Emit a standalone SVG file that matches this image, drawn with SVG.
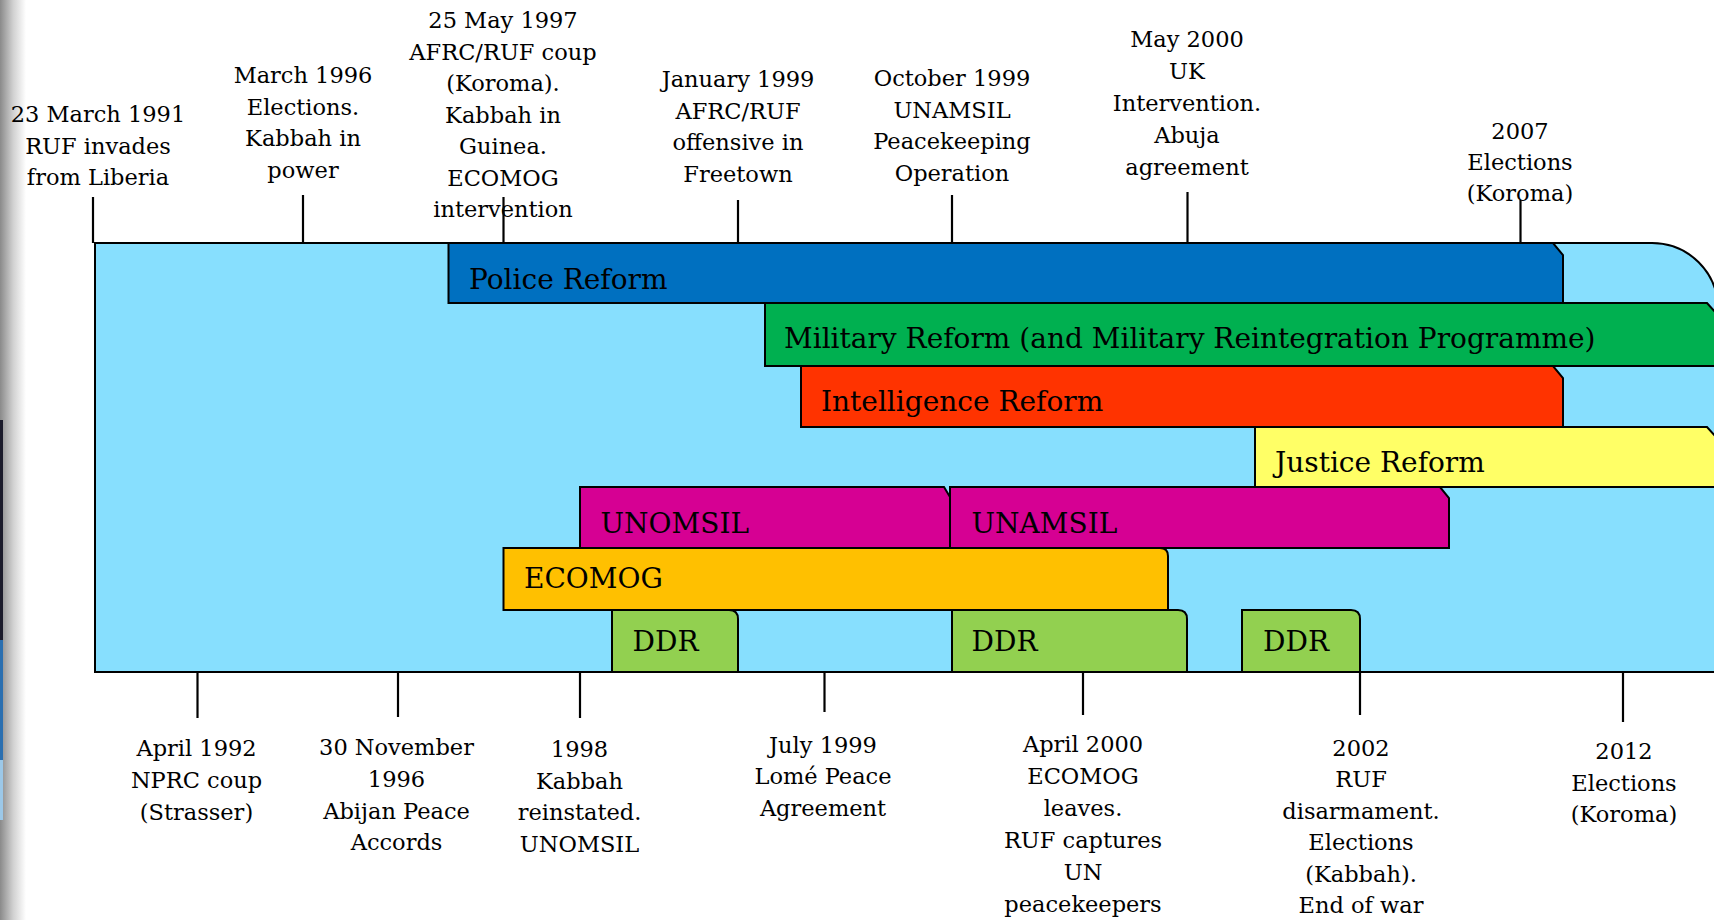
<svg xmlns="http://www.w3.org/2000/svg" width="1714" height="920" viewBox="0 0 1714 920">
<defs>
<linearGradient id="edge" x1="0" y1="0" x2="1" y2="0">
<stop offset="0" stop-color="#8a8a8a"/>
<stop offset="0.5" stop-color="#d0d0d0"/>
<stop offset="1" stop-color="#ffffff"/>
</linearGradient>
</defs>
<style>
.lbl{font-family:"DejaVu Serif","Liberation Serif",serif;font-size:22.5px;text-anchor:middle;fill:#000}
.bt{font-family:"DejaVu Serif","Liberation Serif",serif;font-size:28px;fill:#000}
.bar{stroke:#000;stroke-width:2;stroke-linejoin:miter}
.tick{stroke:#000;stroke-width:2.2;fill:none}
</style>
<rect x="0" y="0" width="1714" height="920" fill="#ffffff"/>
<rect x="0" y="0" width="26" height="920" fill="url(#edge)"/>
<rect x="0" y="420" width="3" height="220" fill="#1a1a2a"/>
<rect x="0" y="640" width="3" height="120" fill="#2a6fb0"/>
<rect x="0" y="760" width="3" height="60" fill="#9cc8e8"/>

<g id="timeline">
<path class="bar" d="M95,243 H1652 A66,66 0 0 1 1718,309 V672 H95 Z" fill="#87DFFE"/>
</g>

<g id="police-reform">
<path class="bar" d="M448.5,243 H1553 L1563,255 V303 H448.5 Z" fill="#0070C0"/>
<text class="bt" x="469" y="289">Police Reform</text>
</g>
<g id="military-reform">
<path class="bar" d="M765,303 H1707 L1716,313 V366 H765 Z" fill="#00B050"/>
<text class="bt" x="784" y="348">Military Reform (and Military Reintegration Programme)</text>
</g>
<g id="intelligence-reform">
<path class="bar" d="M801,366 H1553 L1563,378 V427 H801 Z" fill="#FF3300"/>
<text class="bt" x="821" y="411">Intelligence Reform</text>
</g>
<g id="justice-reform">
<path class="bar" d="M1255,427 H1707 L1716,437 V487 H1255 Z" fill="#FFFF66"/>
<text class="bt" x="1275" y="471.5">Justice Reform</text>
</g>
<g id="unomsil">
<path class="bar" d="M580,487 H944 L950,497 V548 H580 Z" fill="#D60093"/>
<text class="bt" x="600.5" y="533">UNOMSIL</text>
</g>
<g id="unamsil">
<path class="bar" d="M950,487 H1440 L1449,498 V548 H950 Z" fill="#D60093"/>
<text class="bt" x="971.5" y="533">UNAMSIL</text>
</g>
<g id="ecomog">
<path class="bar" d="M503.5,548 H1160 Q1168,548 1168,556 V610 H503.5 Z" fill="#FFC000"/>
<text class="bt" x="524" y="588">ECOMOG</text>
</g>
<g id="ddr-1">
<path class="bar" d="M612,610 H729 Q738,610 738,619 V672 H612 Z" fill="#92D050"/>
<text class="bt" x="632.5" y="650.5">DDR</text>
</g>
<g id="ddr-2">
<path class="bar" d="M952,610 H1178 Q1187,610 1187,619 V672 H952 Z" fill="#92D050"/>
<text class="bt" x="971.5" y="650.5">DDR</text>
</g>
<g id="ddr-3">
<path class="bar" d="M1242,610 H1351 Q1360,610 1360,619 V672 H1242 Z" fill="#92D050"/>
<text class="bt" x="1263" y="650.5">DDR</text>
</g>

<g id="connectors">
<line class="tick" x1="93" y1="197" x2="93" y2="243"/>
<line class="tick" x1="303" y1="195" x2="303" y2="243"/>
<line class="tick" x1="503.5" y1="197" x2="503.5" y2="243"/>
<line class="tick" x1="738" y1="200" x2="738" y2="243"/>
<line class="tick" x1="952" y1="195" x2="952" y2="243"/>
<line class="tick" x1="1187.5" y1="192" x2="1187.5" y2="243"/>
<line class="tick" x1="1520.5" y1="200" x2="1520.5" y2="243"/>
<line class="tick" x1="197.5" y1="672" x2="197.5" y2="718"/>
<line class="tick" x1="398" y1="672" x2="398" y2="717"/>
<line class="tick" x1="580" y1="672" x2="580" y2="718"/>
<line class="tick" x1="824.5" y1="672" x2="824.5" y2="712"/>
<line class="tick" x1="1083" y1="672" x2="1083" y2="715"/>
<line class="tick" x1="1360" y1="672" x2="1360" y2="715"/>
<line class="tick" x1="1623" y1="672" x2="1623" y2="722"/>
</g>

<g id="ev-1991">
<text class="lbl" x="98" y="122">23 March 1991</text>
<text class="lbl" x="98" y="153.5">RUF invades</text>
<text class="lbl" x="98" y="185">from Liberia</text>
</g>
<g id="ev-1996">
<text class="lbl" x="303" y="83">March 1996</text>
<text class="lbl" x="303" y="114.5">Elections.</text>
<text class="lbl" x="303" y="146">Kabbah in</text>
<text class="lbl" x="303" y="177.5">power</text>
</g>
<g id="ev-1997">
<text class="lbl" x="503" y="28">25 May 1997</text>
<text class="lbl" x="503" y="59.5">AFRC/RUF coup</text>
<text class="lbl" x="503" y="91">(Koroma).</text>
<text class="lbl" x="503" y="122.5">Kabbah in</text>
<text class="lbl" x="503" y="154">Guinea.</text>
<text class="lbl" x="503" y="185.5">ECOMOG</text>
<text class="lbl" x="503" y="217">intervention</text>
</g>
<g id="ev-1999-jan">
<text class="lbl" x="738" y="87">January 1999</text>
<text class="lbl" x="738" y="118.5">AFRC/RUF</text>
<text class="lbl" x="738" y="150">offensive in</text>
<text class="lbl" x="738" y="181.5">Freetown</text>
</g>
<g id="ev-1999-oct">
<text class="lbl" x="952" y="86">October 1999</text>
<text class="lbl" x="952" y="117.5">UNAMSIL</text>
<text class="lbl" x="952" y="149">Peacekeeping</text>
<text class="lbl" x="952" y="180.5">Operation</text>
</g>
<g id="ev-2000-may">
<text class="lbl" x="1187" y="47">May 2000</text>
<text class="lbl" x="1187" y="79">UK</text>
<text class="lbl" x="1187" y="111">Intervention.</text>
<text class="lbl" x="1187" y="143">Abuja</text>
<text class="lbl" x="1187" y="175">agreement</text>
</g>
<g id="ev-2007">
<text class="lbl" x="1520" y="139">2007</text>
<text class="lbl" x="1520" y="170">Elections</text>
<text class="lbl" x="1520" y="201">(Koroma)</text>
</g>

<g id="ev-1992">
<text class="lbl" x="196.5" y="756">April 1992</text>
<text class="lbl" x="196.5" y="788">NPRC coup</text>
<text class="lbl" x="196.5" y="820">(Strasser)</text>
</g>
<g id="ev-1996-nov">
<text class="lbl" x="396.5" y="755">30 November</text>
<text class="lbl" x="396.5" y="787">1996</text>
<text class="lbl" x="396.5" y="818.5">Abijan Peace</text>
<text class="lbl" x="396.5" y="850">Accords</text>
</g>
<g id="ev-1998">
<text class="lbl" x="579.5" y="757">1998</text>
<text class="lbl" x="579.5" y="788.5">Kabbah</text>
<text class="lbl" x="579.5" y="820">reinstated.</text>
<text class="lbl" x="579.5" y="851.5">UNOMSIL</text>
</g>
<g id="ev-1999-jul">
<text class="lbl" x="823" y="752.5">July 1999</text>
<text class="lbl" x="823" y="784">Lomé Peace</text>
<text class="lbl" x="823" y="815.5">Agreement</text>
</g>
<g id="ev-2000-apr">
<text class="lbl" x="1083" y="752">April 2000</text>
<text class="lbl" x="1083" y="784">ECOMOG</text>
<text class="lbl" x="1083" y="816">leaves.</text>
<text class="lbl" x="1083" y="848">RUF captures</text>
<text class="lbl" x="1083" y="880">UN</text>
<text class="lbl" x="1083" y="912">peacekeepers</text>
</g>
<g id="ev-2002">
<text class="lbl" x="1361" y="755.5">2002</text>
<text class="lbl" x="1361" y="787">RUF</text>
<text class="lbl" x="1361" y="818.5">disarmament.</text>
<text class="lbl" x="1361" y="850">Elections</text>
<text class="lbl" x="1361" y="881.5">(Kabbah).</text>
<text class="lbl" x="1361" y="913">End of war</text>
</g>
<g id="ev-2012">
<text class="lbl" x="1624" y="759">2012</text>
<text class="lbl" x="1624" y="790.5">Elections</text>
<text class="lbl" x="1624" y="822">(Koroma)</text>
</g>
</svg>
